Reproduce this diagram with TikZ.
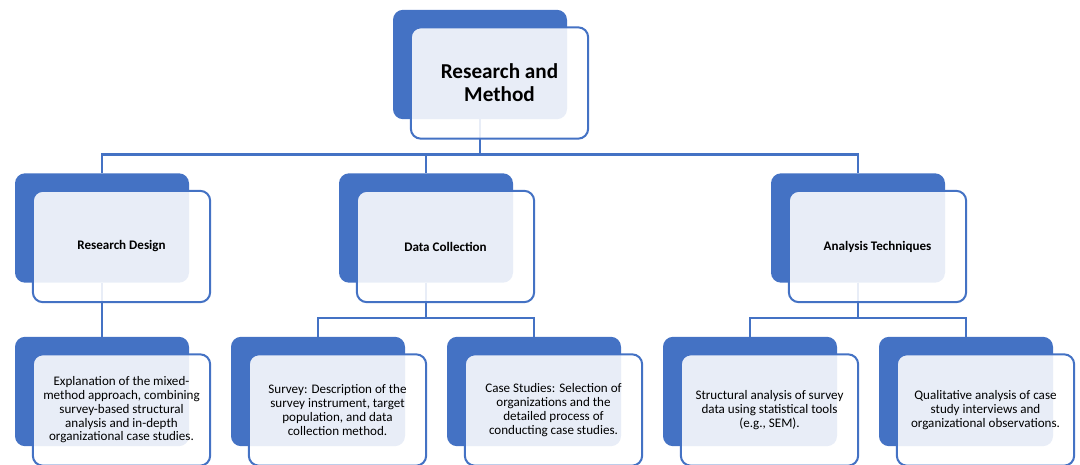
\documentclass[tikz,border=0pt]{standalone}
\usepackage{fontspec}
\setmainfont{Carlito}
\usetikzlibrary{backgrounds}
\definecolor{boxblue}{RGB}{68,114,196}
\newcommand{\duobox}[5]{%
  \node[backbox] (#1) at (#2,#3) {};
  \node[frontbox,#4] (#1f) at (#2+19.5,#3+18.5) {#5};
}

\begin{document}
\begin{tikzpicture}[x=0.75pt,y=-0.75pt,
  backbox/.style={fill=boxblue,rounded corners=7.5pt,minimum width=130.5pt,minimum height=82pt,inner sep=0pt},
  frontbox/.style={draw=boxblue,line width=1.5pt,fill=white,fill opacity=0.88,text opacity=1,rounded corners=7.5pt,
                   minimum width=133pt,minimum height=83.5pt,inner sep=0pt,align=center},
  toptext/.style={font=\fontsize{15.9}{17.2}\selectfont\bfseries},
  midtext/.style={font=\fontsize{9.8}{11}\selectfont\bfseries},
  lowtext/.style={font=\fontsize{9.8}{10.3}\selectfont},
  link/.style={draw=boxblue,line width=1.6pt}]

\useasboundingbox (0,0) rectangle (1080,464);

\duobox{rm}{480}{64.5}{toptext}{Research and\\Method}

\duobox{rd}{102}{228}{midtext}{Research Design}
\duobox{dc}{426}{228}{midtext}{Data Collection}
\duobox{at}{858}{228}{midtext}{Analysis Techniques}

\duobox{mx}{102}{391.5}{lowtext}{Explanation of the mixed-\\method approach, combining\\survey-based structural\\analysis and in-depth\\organizational case studies.}
\duobox{sv}{318}{391.5}{lowtext}{Survey: Description of the\\survey instrument, target\\population, and data\\collection method.}
\duobox{cs}{534}{391.5}{lowtext}{Case Studies: Selection of\\organizations and the\\detailed process of\\conducting case studies.}
\duobox{sa}{750}{391.5}{lowtext}{Structural analysis of survey\\data using statistical tools\\(e.g., SEM).}
\duobox{qa}{966}{391.5}{lowtext}{Qualitative analysis of case\\study interviews and\\organizational observations.}

\begin{scope}[on background layer]
\draw[link] (rm.south) -- ++(0,35) -| (rd.north);
\draw[link] (rm.south) -- ++(0,35) -| (dc.north);
\draw[link] (rm.south) -- ++(0,35) -| (at.north);

\draw[link] (rd.south) -- (mx.north);
\draw[link] (dc.south) -- ++(0,35) -| (sv.north);
\draw[link] (dc.south) -- ++(0,35) -| (cs.north);
\draw[link] (at.south) -- ++(0,35) -| (sa.north);
\draw[link] (at.south) -- ++(0,35) -| (qa.north);
\end{scope}

\end{tikzpicture}
\end{document}
